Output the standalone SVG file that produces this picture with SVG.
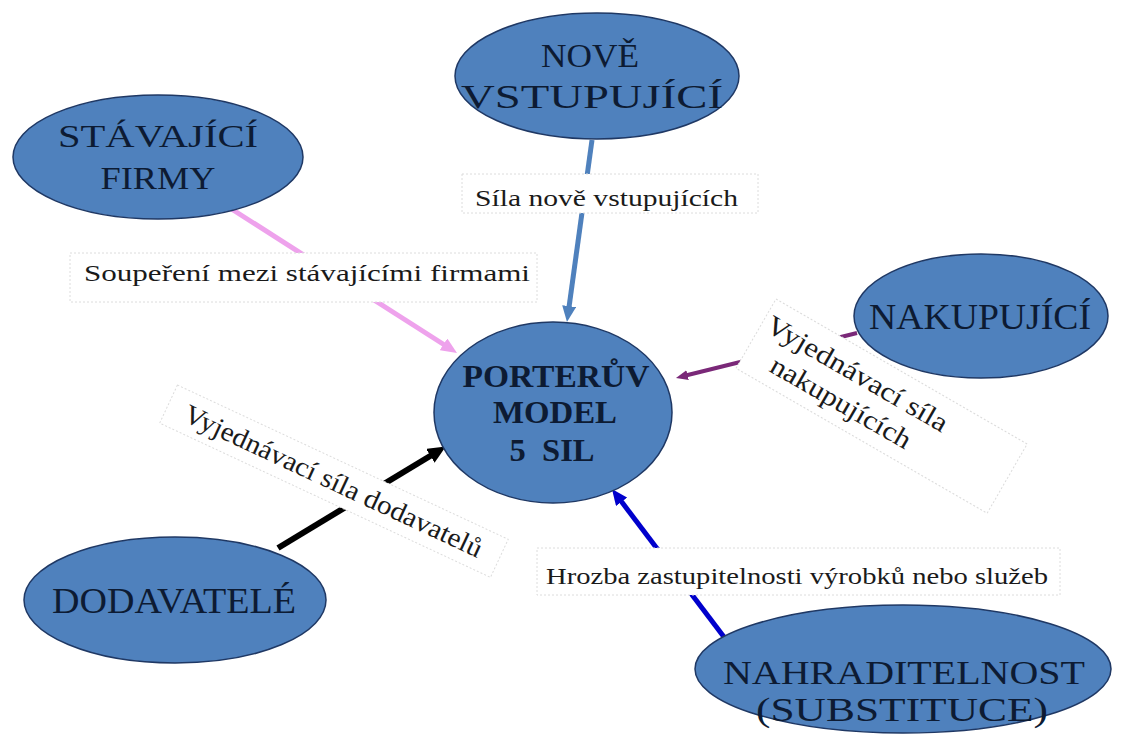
<svg xmlns="http://www.w3.org/2000/svg" width="1124" height="736" viewBox="0 0 1124 736" font-family="'Liberation Serif', 'Times New Roman', serif">
<style>
.node{fill:#4f81bd;stroke:#1f3864;stroke-width:1.5}
.nt{fill:#0d1b33;text-anchor:middle}
.ct{fill:#0d1b33;text-anchor:middle;font-weight:bold;font-size:31px}
.lbox{fill:#ffffff;stroke:#dcdcdc;stroke-width:1;stroke-dasharray:2 2}
.lt{fill:#1a1a1a;font-size:24px}
.rt{fill:#1a1a1a;font-size:27px;text-anchor:middle}
.c{fill:none}
</style>
<defs>
<marker id="mSteel" markerUnits="userSpaceOnUse" viewBox="0 0 16 14" markerWidth="16" markerHeight="14" refX="4" refY="7" orient="auto"><path d="M0,0 L16,7 L0,14 z" fill="#4f81bd"/></marker>
<marker id="mPink" markerUnits="userSpaceOnUse" viewBox="0 0 16 14" markerWidth="16" markerHeight="14" refX="4" refY="7" orient="auto"><path d="M0,0 L16,7 L0,14 z" fill="#eea2ec"/></marker>
<marker id="mPurple" markerUnits="userSpaceOnUse" viewBox="0 0 12 10" markerWidth="12" markerHeight="10" refX="3" refY="5" orient="auto"><path d="M0,0 L12,5 L0,10 z" fill="#7a2878"/></marker>
<marker id="mBlack" markerUnits="userSpaceOnUse" viewBox="0 0 18 16" markerWidth="18" markerHeight="16" refX="5" refY="8" orient="auto"><path d="M0,0 L18,8 L0,16 z" fill="#000000"/></marker>
<marker id="mBlue" markerUnits="userSpaceOnUse" viewBox="0 0 16 14" markerWidth="16" markerHeight="14" refX="4" refY="7" orient="auto"><path d="M0,0 L16,7 L0,14 z" fill="#0000cc"/></marker>
</defs>
<rect width="1124" height="736" fill="#ffffff"/>

<g id="connectors">
<line class="c" x1="592" y1="140" x2="568.6" y2="310.1" stroke="#4f81bd" stroke-width="5" marker-end="url(#mSteel)"/>
<line class="c" x1="230" y1="208" x2="446.9" y2="346.5" stroke="#eea2ec" stroke-width="5" marker-end="url(#mPink)"/>
<line class="c" x1="857" y1="333" x2="684.7" y2="375.8" stroke="#7a2878" stroke-width="4" marker-end="url(#mPurple)"/>
<line class="c" x1="278" y1="548" x2="434.7" y2="453.2" stroke="#000000" stroke-width="6" marker-end="url(#mBlack)"/>
<line class="c" x1="724" y1="637" x2="619.2" y2="498.6" stroke="#0000cc" stroke-width="5" marker-end="url(#mBlue)"/>
</g>

<g id="label-soupereni">
<rect class="lbox" x="70" y="253" width="467" height="49"/>
<text class="lt" x="84" y="281" textLength="446" lengthAdjust="spacingAndGlyphs">Soupeření mezi stávajícími firmami</text>
</g>
<g id="label-sila">
<rect class="lbox" x="462" y="174" width="296" height="39"/>
<text class="lt" x="475" y="206" textLength="263" lengthAdjust="spacingAndGlyphs">Síla nově vstupujících</text>
</g>
<g id="label-hrozba">
<rect class="lbox" x="537" y="548" width="523" height="47"/>
<text class="lt" x="546" y="584" textLength="502" lengthAdjust="spacingAndGlyphs">Hrozba zastupitelnosti výrobků nebo služeb</text>
</g>
<g id="label-dodavatelu" transform="translate(333.5,481) rotate(25)">
<rect class="lbox" x="-182" y="-21" width="365" height="42"/>
<text class="rt" x="0" y="9" textLength="326" lengthAdjust="spacingAndGlyphs">Vyjednávací síla dodavatelů</text>
</g>
<g id="label-nakupujicich" transform="translate(776,299) rotate(30)">
<rect class="lbox" x="0" y="0" width="290" height="80"/>
<text class="rt" x="108" y="33" textLength="205" lengthAdjust="spacingAndGlyphs">Vyjednávací síla</text>
<text class="rt" x="108" y="66" textLength="158" lengthAdjust="spacingAndGlyphs">nakupujících</text>
</g>

<g id="node-stavajici">
<ellipse class="node" cx="158" cy="157" rx="145" ry="62"/>
<text class="nt" x="158" y="147" font-size="32" textLength="200" lengthAdjust="spacingAndGlyphs">STÁVAJÍCÍ</text>
<text class="nt" x="158" y="189" font-size="32" textLength="115" lengthAdjust="spacingAndGlyphs">FIRMY</text>
</g>
<g id="node-nove">
<ellipse class="node" cx="597" cy="76" rx="142" ry="63"/>
<text class="nt" x="590" y="67" font-size="33" textLength="98" lengthAdjust="spacingAndGlyphs">NOVĚ</text>
<text class="nt" x="592" y="108" font-size="34" textLength="262" lengthAdjust="spacingAndGlyphs">VSTUPUJÍCÍ</text>
</g>
<g id="node-nakupujici">
<ellipse class="node" cx="981" cy="316" rx="127" ry="62"/>
<text class="nt" x="980" y="329" font-size="35" textLength="222" lengthAdjust="spacingAndGlyphs">NAKUPUJÍCÍ</text>
</g>
<g id="node-dodavatele">
<ellipse class="node" cx="175" cy="600" rx="151" ry="63"/>
<text class="nt" x="174" y="613" font-size="35" textLength="244" lengthAdjust="spacingAndGlyphs">DODAVATELÉ</text>
</g>
<g id="node-nahraditelnost">
<ellipse class="node" cx="903" cy="669" rx="208" ry="64"/>
<text class="nt" x="904" y="684" font-size="34" textLength="362" lengthAdjust="spacingAndGlyphs">NAHRADITELNOST</text>
<text class="nt" x="902" y="721" font-size="34" textLength="292" lengthAdjust="spacingAndGlyphs">(SUBSTITUCE)</text>
</g>
<g id="node-porter">
<ellipse class="node" cx="553" cy="412.5" rx="119" ry="90.5"/>
<text class="ct" x="556" y="387" textLength="187" lengthAdjust="spacingAndGlyphs">PORTERŮV</text>
<text class="ct" x="555" y="423" textLength="124" lengthAdjust="spacingAndGlyphs">MODEL</text>
<text class="ct" x="552" y="461" textLength="85" lengthAdjust="spacingAndGlyphs" xml:space="preserve">5  SIL</text>
</g>
</svg>
